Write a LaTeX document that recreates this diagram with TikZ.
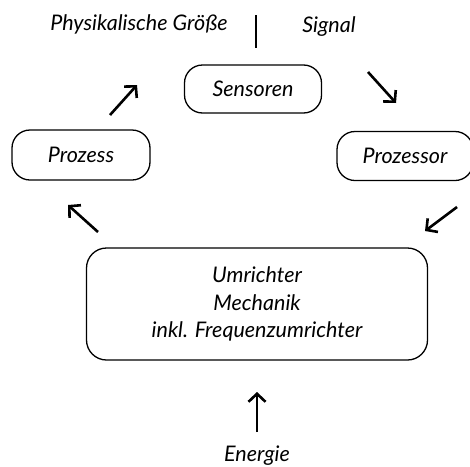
\documentclass[tikz,border=0pt]{standalone}
\usepackage{fontspec}
\setmainfont{Lato}
\usetikzlibrary{arrows.meta}
\begin{document}
\begin{tikzpicture}[x=1pt,y=-1pt,
    font=\itshape\fontsize{21.5}{27.5}\selectfont,
    box/.style={draw,line width=1.3pt,rounded corners=18pt,align=center},
    flow/.style={line width=2.6pt,-{Straight Barb[length=8pt,width=17pt,line width=2.6pt]}}]
  \useasboundingbox (0,0) rectangle (470,466);
  \draw
    (253,89) node[box,minimum width=137pt,minimum height=48pt] (sensoren){Sensoren}
    (81,155) node[box,minimum width=138pt,minimum height=50pt] (prozess){Prozess}
    (405,156) node[box,minimum width=136pt,minimum height=49pt] (prozessor){Prozessor}
    (257,304) node[box,rounded corners=20pt,minimum width=341pt,minimum height=112pt] (umrichter){Umrichter\\Mechanik\\inkl. Frequenzumrichter}
    (139,24) node (groesse){Physikalische Größe}
    (329,27) node (signal){Signal}
    (257,456) node (energie){Energie};
  \coordinate (t1) at (256,15);
  \coordinate (t2) at (256,48);
  \draw[line width=2pt] (t1) -- (t2);
  % pfeile im kreislauf
  \coordinate (a1) at (110,115);
  \coordinate (a2) at (137,85);
  \coordinate (b1) at (368,72);
  \coordinate (b2) at (396,103);
  \coordinate (c1) at (457,207);
  \coordinate (c2) at (425,231);
  \coordinate (d1) at (98,232);
  \coordinate (d2) at (68,205);
  \coordinate (e1) at (257,432);
  \coordinate (e2) at (257,392);
  \begin{scope}[flow]
    \draw (a1) to (a2);
    \draw (b1) to (b2);
    \draw (c1) to (c2);
    \draw (d1) to (d2);
    \draw (e1) to (e2);
  \end{scope}
\end{tikzpicture}
\end{document}
